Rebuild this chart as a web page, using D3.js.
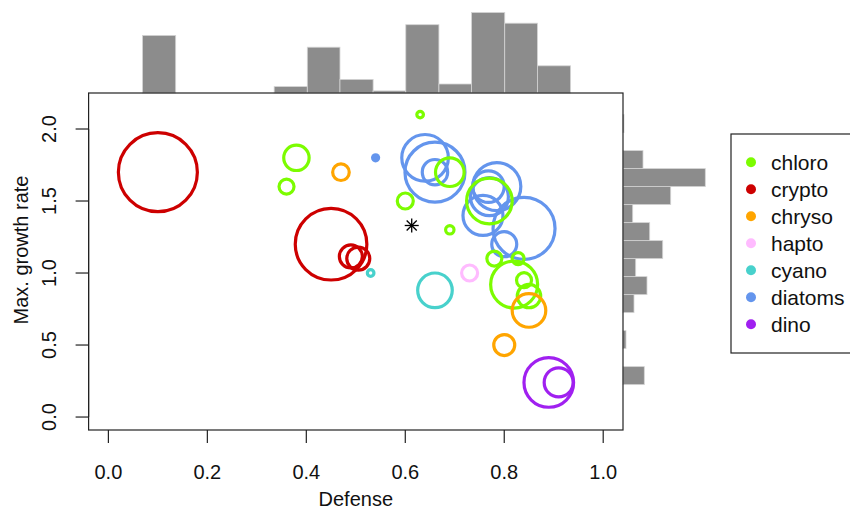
<!DOCTYPE html>
<html><head><meta charset="utf-8">
<script src="https://cdn.jsdelivr.net/npm/d3@7"></script>
<style>body{margin:0;background:#fff}svg{display:block;font-family:"Liberation Sans",Arial,sans-serif}</style>
</head><body><svg id="c" width="850" height="511"></svg>
<script>
// ---- data ----
const groups = ["chloro","crypto","chryso","hapto","cyano","diatoms","dino"];
const groupColors = ["#7CFC00","#CD0000","#FFA500","#FFBBFF","#48D1CC","#6495ED","#A020F0"];
const drawOrder = ["crypto","diatoms","chloro","chryso","hapto","cyano","dino"];

const chloroX = [0.38,0.36,0.63,0.69,0.60,0.69,0.77,0.78,0.828,0.82,0.84,0.85];
const chloroY = [1.80,1.60,2.10,1.70,1.50,1.30,1.50,1.10,1.10,0.92,0.95,0.84];
const chloroS = [12.7,7.5,3.3,14.3,8,4.2,22.8,7.5,6,23.5,7.5,11.7];

const cryptoX = [0.10,0.45,0.49,0.505];
const cryptoY = [1.70,1.20,1.115,1.10];
const cryptoS = [39.5,35.8,11.5,11.5];

const chrysoX = [0.47,0.85,0.80];
const chrysoY = [1.70,0.74,0.50];
const chrysoS = [8.3,16.8,10.5];

const haptoX = [0.73];
const haptoY = [1.00];
const haptoS = [8];

const cyanoX = [0.53,0.66];
const cyanoY = [1.00,0.88];
const cyanoS = [3.3,17.3];

const diatomsX = [0.54,0.64,0.66,0.66,0.785,0.768,0.77,0.757,0.84,0.80];
const diatomsY = [1.80,1.80,1.70,1.70,1.60,1.60,1.53,1.40,1.31,1.20];
const diatomsS = [1.5,23.3,30,12.7,24,15.8,19,20,31,12.5];

const dinoX = [0.89,0.91];
const dinoY = [0.24,0.24];
const dinoS = [24.8,14.5];

const meanPoint = [0.613, 1.33];

const topBreaks = [0.069,0.136,0.202,0.269,0.335,0.402,0.468,0.535,0.601,0.668,0.734,0.801,0.867,0.934];
const topValues = [57.6,0,0,0,6.4,45.8,13.6,2.1,68.3,9,80.5,69.8,27.2];

const rightBreaks = [0.225,0.35,0.475,0.6,0.725,0.85,0.975,1.1,1.225,1.35,1.475,1.6,1.725,1.85,1.975,2.1];
const rightValues = [21.3,0,3,0,11,24,12.7,39.7,26.7,9.7,47.7,82.3,20,0,1];

const xTicks = [0,0.2,0.4,0.6,0.8,1.0];
const yTicks = [0,0.5,1.0,1.5,2.0];
const xLabel = "Defense";
const yLabel = "Max. growth rate";

// ---- drawing ----
const svg = d3.select("#c");
const L = 88.6, R = 623, T = 93, B = 430;
const x = d3.scaleLinear().domain([-0.04,1.04]).range([L,R]);
const y = d3.scaleLinear().domain([-0.09,2.25]).range([B,T]);
const rS = d3.scaleLinear().domain([0,40]).range([0,40]);
const hS = d3.scaleLinear().domain([0,90]).range([0,90]);
const color = d3.scaleOrdinal().domain(groups).range(groupColors);

const data = {
  chloro:[chloroX,chloroY,chloroS], crypto:[cryptoX,cryptoY,cryptoS], chryso:[chrysoX,chrysoY,chrysoS],
  hapto:[haptoX,haptoY,haptoS], cyano:[cyanoX,cyanoY,cyanoS], diatoms:[diatomsX,diatomsY,diatomsS], dino:[dinoX,dinoY,dinoS]
};

// top histogram
const topBins = topValues.map((v,i)=>({x0:topBreaks[i],x1:topBreaks[i+1],v}));
svg.append("g").selectAll("rect").data(topBins.filter(d=>d.v>0)).join("rect")
  .attr("x",d=>x(d.x0)).attr("width",d=>x(d.x1)-x(d.x0))
  .attr("y",d=>T-hS(d.v)).attr("height",d=>hS(d.v))
  .attr("fill","#8c8c8c").attr("stroke","#d4d4d4").attr("stroke-width",0.8);

// right histogram
const rightBins = rightValues.map((v,i)=>({y0:rightBreaks[i],y1:rightBreaks[i+1],v}));
svg.append("g").selectAll("rect").data(rightBins.filter(d=>d.v>0)).join("rect")
  .attr("x",R).attr("width",d=>hS(d.v))
  .attr("y",d=>y(d.y1)).attr("height",d=>y(d.y0)-y(d.y1))
  .attr("fill","#8c8c8c").attr("stroke","#d4d4d4").attr("stroke-width",0.8);

// circles
const cg = svg.append("g");
drawOrder.forEach(g=>{
  const [xs,ys,ss] = data[g];
  cg.append("g").selectAll("circle").data(xs.map((v,i)=>({x:v,y:ys[i],s:ss[i]}))).join("circle")
    .attr("cx",d=>x(d.x)).attr("cy",d=>y(d.y))
    .attr("r",d=>d.s<2?4.6:rS(d.s))
    .attr("fill",d=>d.s<2?color(g):"none")
    .attr("stroke",d=>d.s<2?"none":color(g)).attr("stroke-width",3.2);
});

// asterisk (mean)
const ax = x(meanPoint[0]), ay = y(meanPoint[1]), a = 7;
const ast = svg.append("g").attr("stroke","#000").attr("stroke-width",1.3);
[[-a,0,a,0],[0,-a,0,a],[-a*0.72,-a*0.72,a*0.72,a*0.72],[-a*0.72,a*0.72,a*0.72,-a*0.72]].forEach(s=>
  ast.append("line").attr("x1",ax+s[0]).attr("y1",ay+s[1]).attr("x2",ax+s[2]).attr("y2",ay+s[3]));

// box
svg.append("rect").attr("x",L).attr("y",T).attr("width",R-L).attr("height",B-T)
  .attr("fill","none").attr("stroke","#222").attr("stroke-width",1.2);

// y axis
const ya = svg.append("g");
ya.append("line").attr("x1",L).attr("x2",L).attr("y1",y(0)).attr("y2",y(2)).attr("stroke","#222").attr("stroke-width",1.2);
ya.selectAll("line.t").data(yTicks).join("line").attr("class","t")
  .attr("x1",L).attr("x2",L-13).attr("y1",d=>y(d)).attr("y2",d=>y(d)).attr("stroke","#222").attr("stroke-width",1.2);
ya.selectAll("text").data(yTicks).join("text")
  .attr("transform",d=>`translate(56,${y(d)}) rotate(-90)`)
  .attr("text-anchor","middle").attr("font-size",20).attr("fill","#111")
  .text(d=>d3.format(".1f")(d));

// x axis
const xa = svg.append("g");
xa.selectAll("line").data(xTicks).join("line")
  .attr("x1",d=>x(d)).attr("x2",d=>x(d)).attr("y1",B).attr("y2",B+13).attr("stroke","#222").attr("stroke-width",1.2);
xa.selectAll("text").data(xTicks).join("text")
  .attr("x",d=>x(d)).attr("y",479).attr("text-anchor","middle").attr("font-size",20).attr("fill","#111")
  .text(d=>d3.format(".1f")(d));

svg.append("text").attr("x",(L+R)/2).attr("y",506).attr("text-anchor","middle").attr("font-size",20).attr("fill","#111").text(xLabel);
svg.append("text").attr("transform","translate(28,250) rotate(-90)").attr("text-anchor","middle").attr("font-size",20).attr("fill","#111").text(yLabel);

// legend
const lg = svg.append("g");
lg.append("rect").attr("x",731).attr("y",134).attr("width",130).attr("height",219).attr("fill","#fff").attr("stroke","#222").attr("stroke-width",1.2);
const items = lg.selectAll("g").data(groups).join("g").attr("transform",(d,i)=>`translate(0,${162.3+i*27})`);
items.append("circle").attr("cx",751).attr("cy",0).attr("r",5).attr("fill",d=>color(d));
items.append("text").attr("x",771).attr("y",0).attr("dy","0.35em").attr("font-size",21).attr("fill","#111").text(d=>d);
</script></body></html>
